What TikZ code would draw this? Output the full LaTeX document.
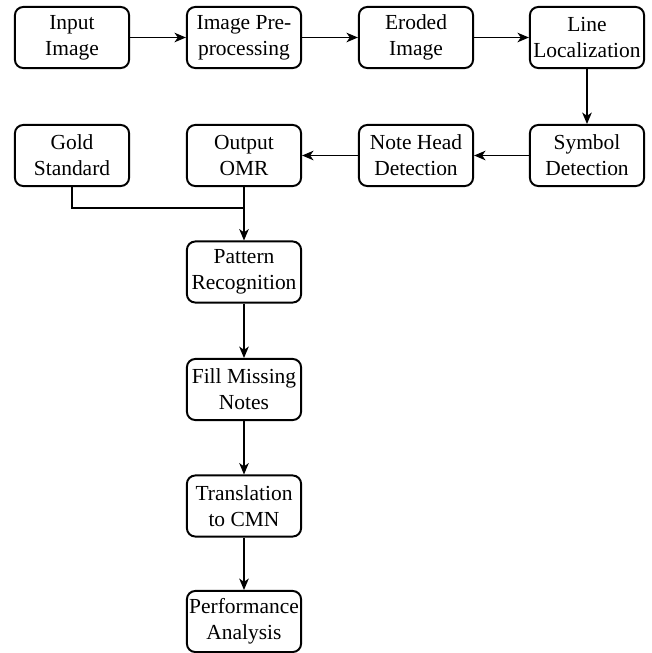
\documentclass[tikz,border=0pt]{standalone}
\usepackage{fontspec}
\setmainfont{Liberation Serif}
\usetikzlibrary{arrows.meta}
\begin{document}
\begin{tikzpicture}[x=0.48pt,y=-0.48pt,
  box/.style={draw, line width=0.95pt, rounded corners=4pt, minimum width=54.8pt, minimum height=29.3pt, inner sep=1pt, align=center, font=\fontsize{10.3}{12.4}\selectfont},
  arr/.style={-{Stealth[length=5.5pt,width=4.6pt,inset=1.6pt]}, line width=0.6pt},
  ln/.style={line width=0.6pt}]
\useasboundingbox (0,0) rectangle (652,653);
\node[box] (in) at (72,37.5) {Input\\Image};
\node[box] (pre) at (244,37.5) {Image Pre-\\processing};
\node[box] (ero) at (416,37.5) {Eroded\\Image};
\node[box] (loc) at (587,37.5) {Line\\Localization};
\node[box] (sym) at (587,155.5) {Symbol\\Detection};
\node[box] (note) at (416,155.5) {Note Head\\Detection};
\node[box] (omr) at (244,155.5) {Output\\OMR};
\node[box] (gold) at (72,155.5) {Gold\\Standard};
\node[box] (pat) at (244,272) {Pattern\\Recognition};
\node[box] (fill) at (244,389.5) {Fill Missing\\Notes};
\node[box] (tr) at (244,506) {Translation\\to CMN};
\node[box] (perf) at (244,621.5) {Performance\\Analysis};
\coordinate (j) at (244,208);
\draw[arr] (in) -- (pre);
\draw[arr] (pre) -- (ero);
\draw[arr] (ero) -- (loc);
\draw[arr] (loc) -- (sym);
\draw[arr] (sym) -- (note);
\draw[arr] (note) -- (omr);
\draw[ln] (gold.south) |- (j);
\draw[arr] (omr) -- (pat);
\draw[arr] (pat) -- (fill);
\draw[arr] (fill) -- (tr);
\draw[arr] (tr) -- (perf);
\end{tikzpicture}
\end{document}
